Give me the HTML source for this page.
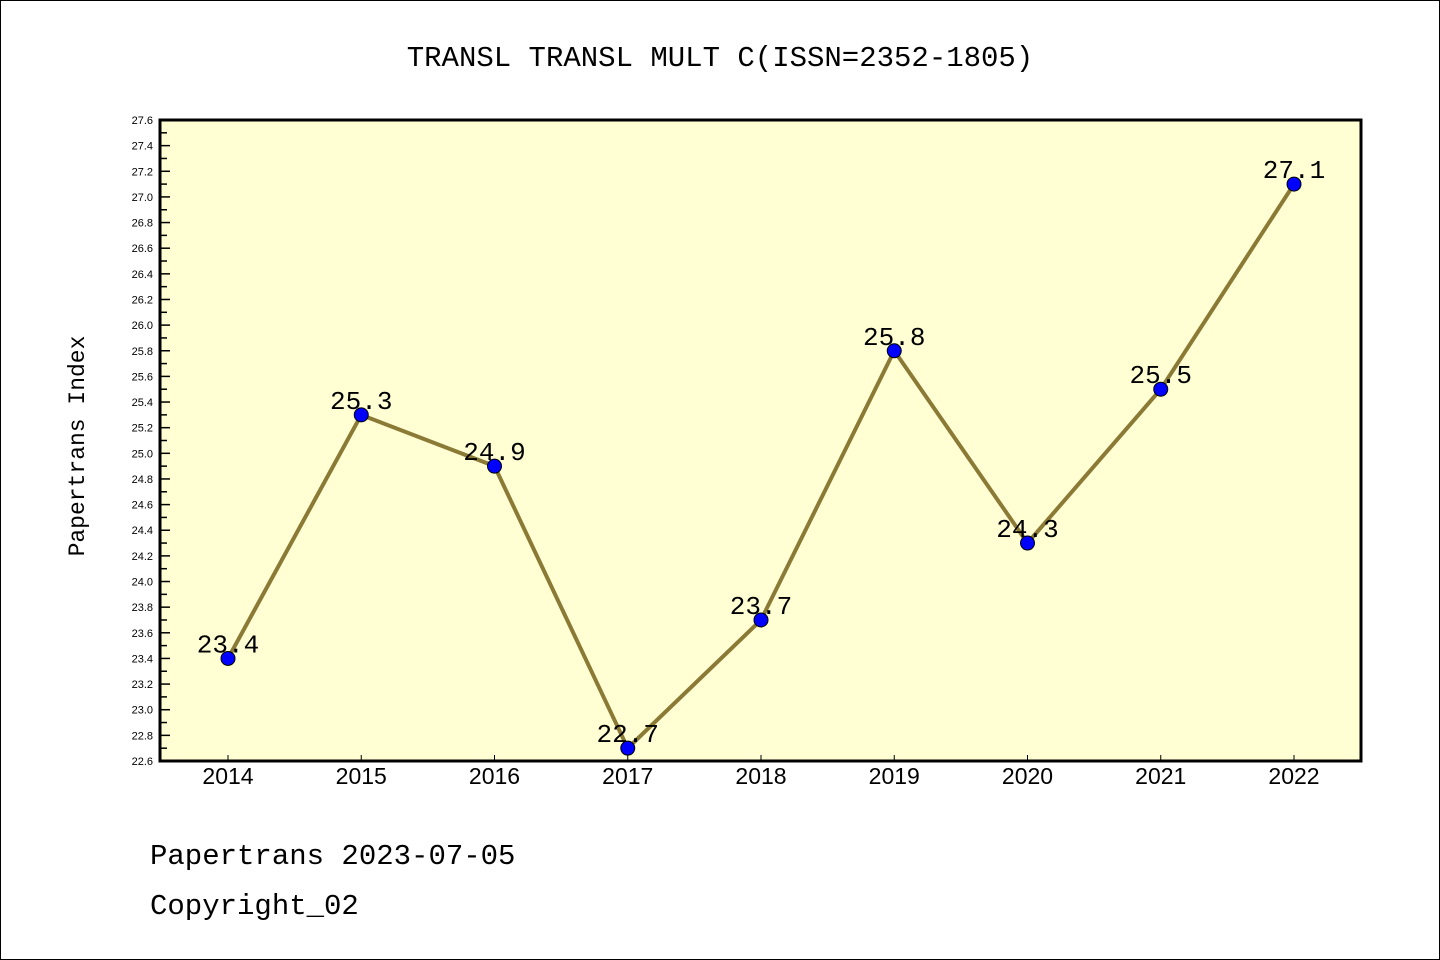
<!DOCTYPE html>
<html><head><meta charset="utf-8"><style>
body{margin:0;background:#fff;}
svg{display:block;font-family:"Liberation Mono","DejaVu Sans Mono",monospace;}
</style></head><body>
<svg id="chart" width="1440" height="960" viewBox="0 0 1440 960">
<rect x="0.5" y="0.5" width="1439" height="959" fill="#fff" stroke="#000"/>
<text x="720" y="66" font-size="29" text-anchor="middle">TRANSL TRANSL MULT C(ISSN=2352-1805)</text>
<rect x="160" y="120" width="1201" height="641" fill="#ffffd3"/>
<g id="yaxis"></g>
<g id="xaxis"></g>
<g id="series"></g>
<rect x="160" y="120" width="1201" height="641" fill="none" stroke="#000" stroke-width="3"/>
<text transform="translate(84,446) rotate(-90)" font-size="23" text-anchor="middle">Papertrans Index</text>
<text x="150" y="864" font-size="29">Papertrans 2023-07-05</text>
<text x="150" y="914" font-size="29">Copyright_02</text>
</svg>
<script>
const years = ["2014","2015","2016","2017","2018","2019","2020","2021","2022"];
const values = [23.4,25.3,24.9,22.7,23.7,25.8,24.3,25.5,27.1];
const valueLabels = ["23.4","25.3","24.9","22.7","23.7","25.8","24.3","25.5","27.1"];
const yMin = 22.6, yMax = 27.6;
const NS="http://www.w3.org/2000/svg";
const X0=228, X1=1294, PT=120, PB=761, PL=160;
function xs(i){return X0+(X1-X0)*i/(years.length-1);}
function ys(v){return PB-(v-yMin)/(yMax-yMin)*(PB-PT);}
function mk(tag,attrs,parent){const e=document.createElementNS(NS,tag);for(const k in attrs)e.setAttribute(k,attrs[k]);parent.appendChild(e);return e;}
const ya=document.getElementById('yaxis');
const nT=Math.round((yMax-yMin)/0.1);
for(let k=0;k<=nT;k++){
  const v=yMin+k*0.1, y=ys(v), major=k%2===0;
  const t=mk('line',{x1:PL,x2:PL+(major?10:7),y1:y,y2:y,stroke:'#000','stroke-width':1.5},ya);
  
  
  if(major){
    const l=mk('text',{x:153,y:y+4,'font-size':11,'text-anchor':'end','font-family':'Liberation Sans, sans-serif'},ya);
    l.textContent=v.toFixed(1);
    
    
  }
}
const xa=document.getElementById('xaxis');
years.forEach((yr,i)=>{
  const x=xs(i);
  const t=mk('line',{x1:x,x2:x,y1:PB,y2:PB-6,stroke:'#000','stroke-width':1},xa);
  
  
  const l=mk('text',{x:x,y:784,'font-size':23,'text-anchor':'middle','font-family':'Liberation Sans, sans-serif'},xa);
  l.textContent=yr;
  
  
});
const s=document.getElementById('series');
const pl=mk('polyline',{points:values.map((v,i)=>xs(i)+','+ys(v)).join(' '),fill:'none',stroke:'#8b7a35','stroke-width':4},s);


values.forEach((v,i)=>{
  const c=mk('circle',{cx:xs(i),cy:ys(v),r:7,fill:'#0000ff',stroke:'#000','stroke-width':1},s);
  
  
  const l=mk('text',{x:xs(i),y:ys(v)-6,'font-size':26,'text-anchor':'middle'},s);
  l.textContent=valueLabels[i];
  
  
});
</script>
</body></html>
